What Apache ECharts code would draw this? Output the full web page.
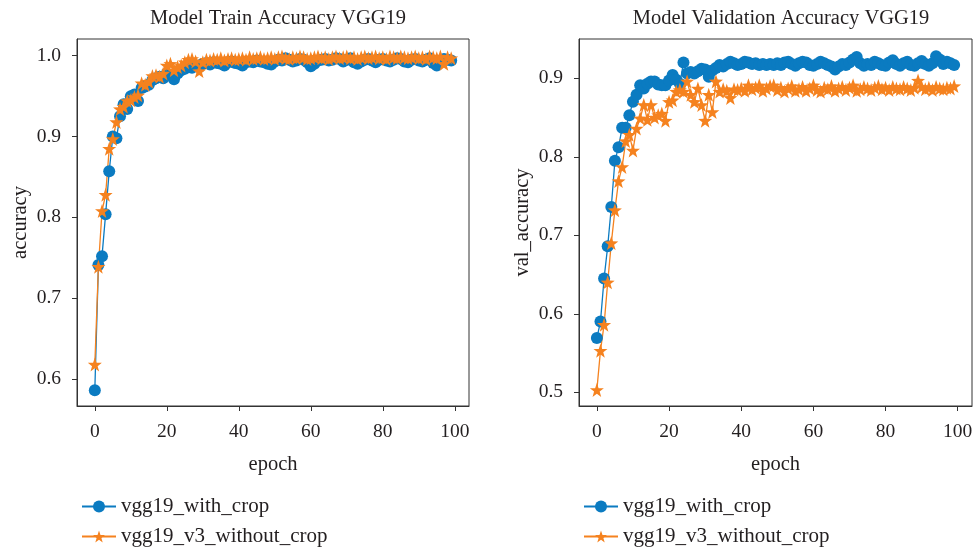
<!DOCTYPE html>
<html>
<head>
<meta charset="utf-8">
<script src="https://cdn.jsdelivr.net/npm/echarts@6/dist/echarts.min.js"></script>
<style>html,body{margin:0;padding:0;background:#fff}#c{width:977px;height:549px}</style>
</head>
<body>
<div id="c"></div>
<script>
// ---- data ----
const epochs = Array.from({length: 100}, (_, i) => i);
const seriesNames = ['vgg19_with_crop', 'vgg19_v3_without_crop'];
const chartTitles = ['Model Train Accuracy VGG19', 'Model Validation Accuracy VGG19'];
const yNames = ['accuracy', 'val_accuracy'];
const xTicks = [0, 20, 40, 60, 80, 100];
const yTicksTrain = [0.6, 0.7, 0.8, 0.9, 1.0];
const yTicksVal = [0.5, 0.6, 0.7, 0.8, 0.9];

const trainWithCrop = [
0.586,0.741,0.752,0.804,0.857,0.900,0.898,0.925,0.940,0.934,
0.950,0.952,0.944,0.960,0.962,0.964,0.970,0.972,0.974,0.972,
0.978,0.976,0.971,0.978,0.982,0.984,0.986,0.985,0.988,0.986,
0.990,0.991,0.989,0.992,0.991,0.990,0.988,0.992,0.993,0.991,
0.990,0.988,0.992,0.993,0.992,0.994,0.993,0.992,0.990,0.989,
0.993,0.995,0.994,0.997,0.995,0.993,0.994,0.996,0.995,0.992,
0.987,0.990,0.994,0.995,0.996,0.994,0.995,0.997,0.996,0.993,
0.995,0.997,0.992,0.990,0.993,0.995,0.996,0.994,0.992,0.995,
0.996,0.994,0.993,0.995,0.997,0.996,0.993,0.992,0.995,0.996,
0.994,0.993,0.995,0.997,0.991,0.988,0.994,0.996,0.995,0.994];

const trainWithoutCrop = [
0.618,0.739,0.808,0.828,0.885,0.897,0.918,0.934,0.937,0.944,
0.945,0.949,0.951,0.966,0.964,0.968,0.975,0.976,0.974,0.978,
0.988,0.990,0.982,0.986,0.988,0.992,0.995,0.996,0.993,0.981,
0.992,0.995,0.994,0.996,0.995,0.997,0.994,0.996,0.997,0.995,
0.996,0.997,0.995,0.998,0.996,0.997,0.998,0.996,0.997,0.998,
0.996,0.998,0.999,0.997,0.996,0.998,0.997,0.999,0.998,0.996,
0.997,0.998,0.999,0.997,0.998,0.996,0.998,0.999,0.997,0.998,
0.999,0.997,0.998,0.996,0.998,0.999,0.997,0.998,0.999,0.997,
0.998,0.996,0.999,0.998,0.997,0.999,0.998,0.997,0.998,0.999,
0.997,0.998,0.996,0.999,0.998,0.997,0.999,0.990,0.998,0.997];

const valWithCrop = [
0.569,0.590,0.645,0.686,0.736,0.795,0.812,0.837,0.837,0.853,
0.870,0.879,0.891,0.887,0.893,0.896,0.896,0.892,0.891,0.891,
0.897,0.904,0.898,0.893,0.920,0.906,0.908,0.906,0.909,0.912,
0.911,0.902,0.910,0.913,0.917,0.915,0.918,0.921,0.919,0.917,
0.918,0.921,0.920,0.918,0.919,0.917,0.918,0.917,0.918,0.917,
0.919,0.917,0.920,0.921,0.918,0.916,0.919,0.921,0.920,0.917,
0.916,0.918,0.921,0.919,0.917,0.915,0.911,0.915,0.918,0.917,
0.920,0.924,0.927,0.919,0.916,0.918,0.917,0.921,0.919,0.917,
0.916,0.920,0.923,0.918,0.916,0.919,0.921,0.917,0.916,0.919,
0.922,0.918,0.916,0.919,0.928,0.924,0.918,0.921,0.919,0.917];

const valWithoutCrop = [
0.503,0.553,0.586,0.640,0.690,0.732,0.769,0.787,0.820,0.828,
0.808,0.836,0.849,0.866,0.847,0.866,0.850,0.853,0.855,0.846,
0.870,0.872,0.883,0.885,0.883,0.896,0.879,0.870,0.887,0.866,
0.846,0.879,0.857,0.896,0.883,0.886,0.884,0.875,0.886,0.885,
0.887,0.884,0.891,0.886,0.888,0.891,0.884,0.887,0.890,0.891,
0.885,0.888,0.883,0.887,0.890,0.884,0.886,0.889,0.884,0.887,
0.891,0.885,0.883,0.888,0.886,0.890,0.884,0.887,0.889,0.885,
0.888,0.891,0.884,0.886,0.889,0.887,0.885,0.888,0.890,0.886,
0.888,0.885,0.889,0.887,0.886,0.889,0.887,0.885,0.888,0.897,
0.889,0.886,0.888,0.885,0.889,0.887,0.886,0.888,0.887,0.890];

// ---- styling ----
const BLUE = '#0b7bc1';
const ORANGE = '#f5821f';
const FONT = '"Liberation Serif", "DejaVu Serif", serif';
const TXT = '#231f20';
const STAR = 'path://M0,-10 L2.35,-3.24 L9.51,-3.09 L3.8,1.24 L5.88,8.09 L0,4 L-5.88,8.09 L-3.8,1.24 L-9.51,-3.09 L-2.35,-3.24 Z';

const xr = [-4.95, 103.95];
const yr0 = [0.5666, 1.0207];
const yr1 = [0.4825, 0.9500];

const grids = [
  {left: 77, top: 39, width: 392, height: 367, show: true, borderColor: '#333', borderWidth: 1},
  {left: 579, top: 39, width: 393, height: 367, show: true, borderColor: '#333', borderWidth: 1}
];

function xAxis(i) {
  return {
    type: 'value', gridIndex: i, min: xr[0], max: xr[1],
    name: 'epoch', nameLocation: 'middle', nameGap: 48,
    nameTextStyle: {fontFamily: FONT, fontSize: 20.5, color: TXT},
    axisLine: {show: true, onZero: false, lineStyle: {color: '#333', width: 1}},
    axisTick: {show: true, length: 5, inside: false, customValues: xTicks, lineStyle: {color: '#333'}},
    axisLabel: {customValues: xTicks, margin: 16, fontFamily: FONT, fontSize: 19.5, color: TXT},
    splitLine: {show: false}
  };
}
function yAxis(i, r, ticks) {
  return {
    type: 'value', gridIndex: i, min: r[0], max: r[1],
    name: yNames[i], nameLocation: 'middle', nameGap: 46, nameRotate: 90,
    nameTextStyle: {fontFamily: FONT, fontSize: 20.5, color: TXT},
    axisLine: {show: true, onZero: false, lineStyle: {color: '#333', width: 1}},
    axisTick: {show: true, length: 5, inside: false, customValues: ticks, lineStyle: {color: '#333'}},
    axisLabel: {customValues: ticks, margin: 16, fontFamily: FONT, fontSize: 19.5, color: TXT,
      formatter: v => v.toFixed(1)},
    splitLine: {show: false}
  };
}
function mkSeries(name, data, i, color, symbol, size) {
  return {
    name: name, type: 'line', xAxisIndex: i, yAxisIndex: i,
    data: epochs.map((e, k) => [e, data[k]]),
    symbol: symbol, symbolSize: size, showSymbol: true,
    lineStyle: {color: color, width: 1.3},
    itemStyle: {color: color, borderWidth: 0},
    animation: false
  };
}
function mkLegend(left, top, name) {
  return {orient: 'vertical', left: left, top: top, itemWidth: 34, itemHeight: 15,
    data: [name], selectedMode: false,
    textStyle: {fontFamily: FONT, fontSize: 21, color: TXT}};
}

const chart = echarts.init(document.getElementById('c'), null, {renderer: 'canvas'});
chart.setOption({
  backgroundColor: '#fff',
  animation: false,
  title: [
    {text: chartTitles[0], left: 273, top: 3, textAlign: 'center',
     textStyle: {fontFamily: FONT, fontSize: 20.5, fontWeight: 'normal', color: TXT}},
    {text: chartTitles[1], left: 776, top: 3, textAlign: 'center',
     textStyle: {fontFamily: FONT, fontSize: 20.5, fontWeight: 'normal', color: TXT}}
  ],
  grid: grids,
  xAxis: [xAxis(0), xAxis(1)],
  yAxis: [yAxis(0, yr0, yTicksTrain), yAxis(1, yr1, yTicksVal)],
  legend: [
    mkLegend(76, 491, seriesNames[0]),
    mkLegend(76, 521, seriesNames[1]),
    mkLegend(578, 491, seriesNames[0]),
    mkLegend(578, 521, seriesNames[1])
  ],
  series: [
    mkSeries(seriesNames[0], trainWithCrop, 0, BLUE, 'circle', 12),
    mkSeries(seriesNames[1], trainWithoutCrop, 0, ORANGE, STAR, 14),
    mkSeries(seriesNames[0], valWithCrop, 1, BLUE, 'circle', 12),
    mkSeries(seriesNames[1], valWithoutCrop, 1, ORANGE, STAR, 14)
  ]
});
</script>
</body>
</html>
